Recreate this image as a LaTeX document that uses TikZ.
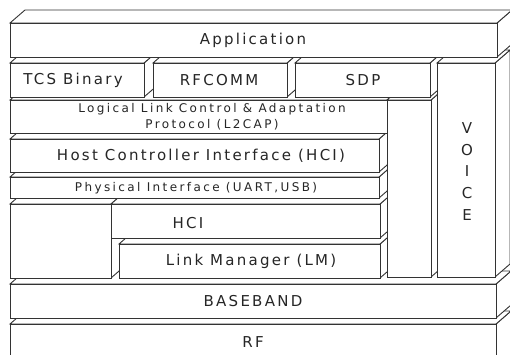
\documentclass[tikz,border=0pt]{standalone}
\usepackage{fontspec}
\setmainfont{DejaVu Sans}
\newfontfamily\widefont[LetterSpace=15]{DejaVu Sans}
\newfontfamily\narrowfont[LetterSpace=20]{DejaVu Sans}

% depth of the slanted top and right faces
\def\dx{15}
\def\dy{-13}

% a layer block: front face (x1,y1)-(x2,y2) with its top and right faces
\newcommand\layerblock[4]{%
  \path[face] (#3,#2) -- ++(\dx,\dy) -- ++(0,#4-#2) -- (#3,#4) -- cycle;
  \path[face] (#1,#2) -- ++(\dx,\dy) -- ++(#3-#1,0) -- (#3,#2) -- cycle;
  \path[face] (#1,#2) rectangle (#3,#4);
}

\begin{document}
\begin{tikzpicture}[x=1pt,y=-1pt,
  face/.style={draw=black!80, fill=white, line width=0.9pt, line join=miter},
  biglbl/.style={inner sep=0pt, text=black!85, font=\fontsize{15}{17}\selectfont\widefont},
  smalllbl/.style={inner sep=0pt, text=black!85, align=center,
    font=\fontsize{12}{16}\selectfont\narrowfont},
  vlbl/.style={inner sep=0pt, text=black!85, align=center,
    font=\fontsize{15}{21.8}\selectfont\widefont}]
\useasboundingbox (0,0) rectangle (510,354);
\clip (0,0) rectangle (510,354);

% radio and baseband
\layerblock{10}{324}{496}{380}
\layerblock{10}{284}{496}{318}
% controller side
\layerblock{10}{204}{111}{278}
\layerblock{119}{244}{380}{278}
\layerblock{111}{204}{380}{238}
\layerblock{10}{177}{379}{198}
\layerblock{10}{139}{379}{172}
\layerblock{10}{100}{387}{133}
\layerblock{387}{100}{431}{277}
% upper protocols
\layerblock{10}{63}{144}{97}
\layerblock{153}{63}{287}{97}
\layerblock{295}{63}{430}{97}
\layerblock{437}{63}{495}{277}
\layerblock{10}{23}{497}{57}

\node[biglbl]   (app)    at (253,40)    {Application};
\node[biglbl]   (tcs)    at (73,80)     {TCS Binary};
\node[biglbl]   (rfcomm) at (219,80)    {RFCOMM};
\node[biglbl]   (sdp)    at (363,80)    {SDP};
\node[smalllbl] (l2cap)  at (212,116.5) {Logical Link Control \& Adaptation\\Protocol (L2CAP)};
\node[biglbl]   (hci)    at (201,156)   {Host Controller Interface (HCI)};
\node[smalllbl] (phy)    at (196,188)   {Physical Interface (UART,USB)};
\node[biglbl]   (hcib)   at (188,223)   {HCI};
\node[biglbl]   (lm)     at (251,261)   {Link Manager (LM)};
\node[biglbl]   (base)   at (253,301)   {BASEBAND};
\node[biglbl]   (rf)     at (253,342)   {RF};
\node[vlbl]     (voice)  at (467,171.5) {V\\O\\I\\C\\E};
\end{tikzpicture}
\end{document}
